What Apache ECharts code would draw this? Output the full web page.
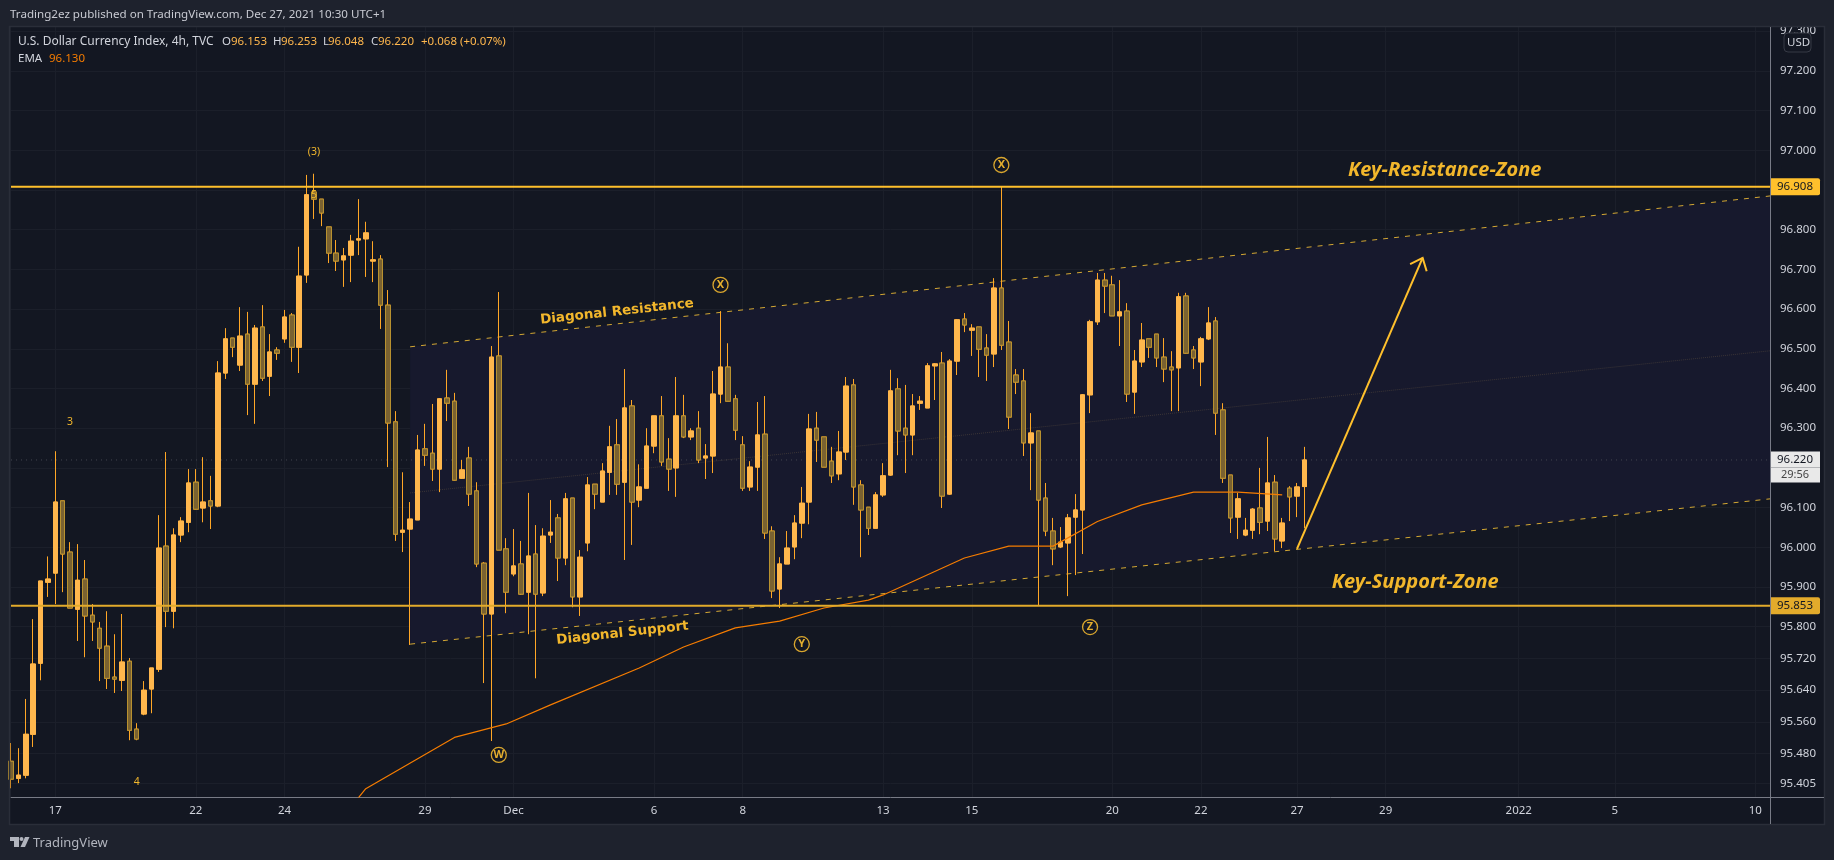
<!DOCTYPE html>
<html>
<head>
<meta charset="utf-8">
<style>html,body{margin:0;padding:0;background:#1e222d;}#c{width:1834px;height:860px;}</style>
<script src="https://cdn.jsdelivr.net/npm/echarts@6/dist/echarts.min.js"></script>
</head>
<body>
<div id="c"></div>
<script>
const opens=[
95.461,95.418,95.426,95.529,95.708,95.912,95.935,96.117,95.988,95.844,
95.920,95.829,95.796,95.751,95.673,95.665,95.713,95.542,95.580,95.643,
95.693,96.003,95.839,96.031,96.063,96.164,96.099,96.117,96.104,96.439,
96.527,96.459,96.537,96.411,96.555,96.431,96.497,96.525,96.585,96.504,
96.686,96.895,96.877,96.807,96.741,96.724,96.736,96.774,96.777,96.721,
96.726,96.610,96.316,96.038,96.046,96.069,96.248,96.237,96.197,96.376,
96.368,96.174,96.225,96.142,95.960,95.832,96.482,95.996,95.933,95.958,
95.887,95.983,95.885,96.031,96.074,95.973,96.124,95.875,96.011,96.159,
96.114,96.189,96.258,96.164,96.356,96.119,96.149,96.255,96.331,96.222,
96.200,96.331,96.278,96.300,96.225,96.230,96.386,96.454,96.374,96.258,
96.152,96.202,96.285,96.041,95.895,95.958,96.001,96.061,96.114,96.300,
96.278,96.217,96.185,96.240,96.409,96.157,96.101,96.048,96.132,96.182,
96.399,96.300,96.283,96.363,96.351,96.457,96.464,96.134,96.469,96.575,
96.547,96.555,96.502,96.487,96.653,96.517,96.434,96.419,96.263,96.293,
96.124,96.041,96.001,96.011,96.076,96.094,96.384,96.568,96.673,96.661,
96.583,96.595,96.391,96.467,96.525,96.537,96.479,96.454,96.452,96.633,
96.497,96.467,96.525,96.570,96.346,96.182,96.076,96.031,96.043,96.099,
96.066,96.164,96.016,96.149,96.129,96.153];
const highs=[
95.507,95.494,95.618,95.819,95.915,95.977,96.242,96.117,96.013,96.008,
95.968,95.857,95.812,95.839,95.781,95.832,95.721,95.557,95.663,95.696,
96.081,96.240,96.048,96.076,96.197,96.197,96.227,96.180,96.469,96.552,
96.527,96.605,96.593,96.560,96.610,96.537,96.504,96.598,96.590,96.757,
96.938,96.941,96.877,96.807,96.774,96.754,96.787,96.877,96.820,96.771,
96.736,96.648,96.343,96.189,96.114,96.283,96.311,96.361,96.376,96.447,
96.389,96.220,96.253,96.164,95.963,96.507,96.643,96.023,96.046,96.016,
96.137,96.056,96.048,96.119,96.084,96.137,96.124,95.993,96.177,96.159,
96.212,96.306,96.323,96.449,96.371,96.209,96.300,96.331,96.381,96.275,
96.429,96.384,96.300,96.343,96.260,96.444,96.595,96.514,96.384,96.280,
96.217,96.366,96.381,96.053,95.975,96.041,96.081,96.152,96.336,96.341,
96.278,96.253,96.293,96.429,96.424,96.169,96.101,96.139,96.212,96.447,
96.426,96.409,96.386,96.381,96.464,96.464,96.492,96.474,96.575,96.590,
96.562,96.555,96.537,96.678,96.908,96.570,96.449,96.449,96.338,96.293,
96.162,96.074,96.051,96.084,96.134,96.386,96.573,96.691,96.691,96.684,
96.673,96.615,96.497,96.565,96.525,96.537,96.527,96.494,96.641,96.641,
96.507,96.530,96.605,96.580,96.363,96.182,96.137,96.074,96.099,96.200,
96.278,96.182,96.074,96.154,96.162,96.253];
const lows=[
95.393,95.406,95.418,95.497,95.665,95.875,95.857,95.887,95.847,95.764,
95.723,95.764,95.663,95.643,95.633,95.638,95.514,95.514,95.577,95.582,
95.686,95.799,95.796,96.013,96.038,96.094,96.063,96.046,96.101,96.424,
96.479,96.444,96.333,96.311,96.419,96.381,96.472,96.515,96.467,96.439,
96.666,96.827,96.809,96.716,96.696,96.656,96.668,96.736,96.681,96.668,
96.550,96.202,96.016,95.988,95.754,96.069,96.205,96.167,96.139,96.318,
96.167,96.172,96.104,95.950,95.658,95.512,95.993,95.834,95.927,95.880,
95.781,95.670,95.877,96.011,95.915,95.955,95.849,95.827,95.990,96.096,
96.114,96.132,96.132,95.968,96.006,96.101,96.149,96.237,96.205,96.142,
96.127,96.275,96.270,96.212,96.172,96.187,96.363,96.368,96.270,96.142,
96.142,96.142,96.021,95.872,95.847,95.958,95.970,96.023,96.058,96.215,
96.202,96.162,96.169,96.220,96.107,95.975,96.031,96.048,96.127,96.180,
96.232,96.187,96.232,96.346,96.351,96.371,96.099,96.132,96.434,96.542,
96.482,96.429,96.419,96.454,96.497,96.298,96.386,96.230,96.144,95.852,
96.028,95.955,95.998,95.877,95.930,95.983,96.338,96.560,96.590,96.583,
96.507,96.366,96.336,96.454,96.477,96.454,96.416,96.343,96.343,96.487,
96.449,96.406,96.522,96.283,96.162,96.036,96.021,96.028,96.021,96.033,
96.041,95.990,95.998,96.066,96.076,96.048];
const closes=[
95.416,95.426,95.529,95.706,95.915,95.920,96.114,95.983,95.847,95.917,
95.827,95.812,95.746,95.670,95.668,95.711,95.539,95.517,95.640,95.696,
95.998,95.839,96.031,96.066,96.162,96.096,96.114,96.104,96.439,96.525,
96.504,96.532,96.411,96.552,96.426,96.492,96.489,96.580,96.504,96.683,
96.888,96.877,96.842,96.741,96.721,96.734,96.771,96.777,96.792,96.724,
96.610,96.313,96.033,96.043,96.071,96.245,96.232,96.197,96.374,96.363,
96.169,96.195,96.134,95.958,95.832,96.479,95.993,95.887,95.953,95.882,
95.978,95.882,96.028,96.038,95.973,96.122,95.875,95.975,96.157,96.134,
96.192,96.253,96.159,96.351,96.114,96.152,96.255,96.331,96.215,96.197,
96.331,96.278,96.293,96.220,96.230,96.386,96.454,96.368,96.295,96.149,
96.202,96.283,96.036,95.890,95.958,95.998,96.061,96.111,96.298,96.270,
96.202,96.180,96.240,96.406,96.152,96.094,96.048,96.132,96.180,96.394,
96.293,96.283,96.356,96.368,96.457,96.462,96.129,96.469,96.573,96.560,
96.552,96.499,96.484,96.653,96.509,96.328,96.416,96.263,96.288,96.119,
96.041,95.996,96.013,96.074,96.094,96.384,96.568,96.673,96.658,96.583,
96.593,96.386,96.469,96.522,96.504,96.477,96.449,96.447,96.631,96.489,
96.477,96.525,96.565,96.338,96.174,96.074,96.122,96.043,96.096,96.063,
96.162,96.021,96.061,96.127,96.152,96.220];

const slotCount=239;
const tickSlots=[6,25,37,56,68,87,99,118,130,149,161,174,186,204,217,236];
const tickLabels=['17','22','24','29','Dec','6','8','13','15','20','22','27','29','2022','5','10'];
const priceTicks=[97.3,97.2,97.1,97.0,96.9,96.8,96.7,96.6,96.5,96.4,96.3,96.2,96.1,96.0,95.9,95.8,95.72,95.64,95.56,95.48,95.405];
const priceLabels=[97.3,97.2,97.1,97.0,96.8,96.7,96.6,96.5,96.4,96.3,96.1,96.0,95.9,95.8,95.72,95.64,95.56,95.48,95.405];

const emaSlots=[46,48,60,67,73,85,91,98,104,110,116,118,129,135,141,147,153,160,166,172];
const emaValues=[95.346,95.392,95.521,95.555,95.603,95.696,95.749,95.797,95.814,95.847,95.867,95.880,95.973,96.003,96.003,96.065,96.107,96.139,96.139,96.132];

const channelSlots=[54,238];
const channelTop=[96.505,96.885];
const channelMid=[96.137,96.495];
const channelLow=[95.756,96.122];
const resistanceLevel=96.908;
const supportLevel=95.853;
const lastPrice=96.220;
const arrowSlots=[174,191];
const arrowPrices=[95.996,96.729];

const noteTexts=['(3)','5','3','4','Diagonal Resistance','Diagonal Support','Key-Resistance-Zone','Key-Support-Zone'];
const noteSlots=[41,41,8,17,82,83,194,190];
const notePrices=[96.996,96.887,96.316,95.409,96.593,95.784,96.950,95.913];
const circleTexts=['X','X','W','Y','Z'];
const circleSlots=[96,134,66,107,146];
const circlePrices=[96.661,96.963,95.477,95.756,95.799];

const BG='#1e222d',PANEL='#131722',GRID='#1b1f2a',AXIS='#787b86',TXT='#d1d4dc',GOLD='#ffc02c',GOLD2='#e3ab2b',UP='#ffb74d',WICK='#ffa726',DN='#7a6231',DNB='#b8912f',EMA='#f57c00';
const F='"Noto Sans",sans-serif';
const categories=Array.from({length:slotCount},(_,i)=>String(i));
const isTick=i=>tickSlots.includes(+i);
const wicks=opens.map((o,i)=>[o,closes[i],lows[i],highs[i]]);
const bodies=opens.map((o,i)=>[o,closes[i],Math.min(o,closes[i]),Math.max(o,closes[i])]);
const twoPoint=(vals)=>channelSlots.map((s,i)=>[s,vals[i]]);
const flat=(v)=>[[0,v],[slotCount-1,v]];

function tag(name,value,bg){
  return {type:'line',name,data:flat(value),symbol:'none',silent:true,z:6,clip:false,
    lineStyle:{color:bg,width:2},
    endLabel:{show:true,distance:0,formatter:'{a|'+value.toFixed(3)+'}',
      rich:{a:{width:50,height:17,lineHeight:17,align:'center',backgroundColor:bg,borderRadius:[0,2,2,0],color:'#131722',fontSize:11.5,fontFamily:F}}}};
}
const t=(x,y,text,fill,extra)=>({type:'text',z:61,x,y,style:Object.assign({text,fill,fontSize:11.5,fontFamily:F,textVerticalAlign:'middle'},extra||{})});

const option={
  animation:false,
  backgroundColor:BG,
  grid:{left:11,right:64,top:27,bottom:63,show:true,backgroundColor:PANEL,borderWidth:0},
  xAxis:{type:'category',data:categories,boundaryGap:false,
    axisLine:{lineStyle:{color:AXIS,width:1}},axisTick:{show:false},
    axisLabel:{interval:(i)=>isTick(i),formatter:(v)=>tickLabels[tickSlots.indexOf(+v)]||'',color:TXT,fontSize:11.5,fontFamily:F,margin:8,hideOverlap:false},
    splitLine:{show:true,interval:(i)=>isTick(i),lineStyle:{color:GRID,width:1}}},
  yAxis:{type:'value',position:'right',min:95.371,max:97.3106,scale:true,
    axisLine:{show:true,lineStyle:{color:AXIS,width:1}},
    axisTick:{show:false,customValues:priceTicks},
    axisLabel:{customValues:priceLabels,formatter:(v)=>(+v).toFixed(3),color:TXT,fontSize:11.5,fontFamily:F,margin:10},
    splitLine:{show:true,lineStyle:{color:GRID,width:1}}},
  series:[
    {type:'custom',name:'channel',z:1,silent:true,data:[[channelSlots[0],channelTop[0]]],
      renderItem:(p,api)=>({type:'polygon',shape:{points:[
        api.coord([channelSlots[0],channelTop[0]]),api.coord([channelSlots[1],channelTop[1]]),
        api.coord([channelSlots[1],channelLow[1]]),api.coord([channelSlots[0],channelLow[0]])]},
        style:{fill:'#17192d'}})},
    {type:'line',name:'mid',z:2,data:twoPoint(channelMid),symbol:'none',silent:true,lineStyle:{color:'#3a3436',width:1,type:'dotted'}},
    {type:'line',name:'last',z:2,data:flat(lastPrice),symbol:'none',silent:true,clip:false,lineStyle:{color:'#43454f',width:1,type:[1,4]},
      endLabel:{show:true,distance:0,offset:[0,7],formatter:'{a|'+lastPrice.toFixed(3)+'}\n{b|29:56}',
        rich:{a:{width:50,height:16,lineHeight:16,align:'center',backgroundColor:'#e9e9e9',color:'#131722',fontSize:11.5,fontFamily:F},
              b:{width:50,height:15,lineHeight:15,align:'center',backgroundColor:'#e9e9e9',color:'#444',fontSize:11,fontFamily:F}}}},
    {type:'line',name:'top',z:3,data:twoPoint(channelTop),symbol:'none',silent:true,lineStyle:{color:'#d4a833',width:1,type:[5,6]}},
    {type:'line',name:'low',z:3,data:twoPoint(channelLow),symbol:'none',silent:true,lineStyle:{color:'#d4a833',width:1,type:[5,6]}},
    {type:'candlestick',name:'wicks',z:4,barWidth:5,data:wicks,silent:true,
      itemStyle:{color:UP,color0:DN,borderColor:WICK,borderColor0:WICK,borderWidth:1}},
    {type:'candlestick',name:'bodies',z:5,barWidth:5,data:bodies,silent:true,
      itemStyle:{color:UP,color0:DN,borderColor:UP,borderColor0:DNB,borderWidth:1}},
    {type:'line',name:'EMA',z:6,data:emaSlots.map((s,i)=>[s,emaValues[i]]),symbol:'none',silent:true,lineStyle:{color:EMA,width:1.2}},
    tag('resistance',resistanceLevel,GOLD),
    tag('support',supportLevel,GOLD2),
    {type:'custom',name:'arrow',z:7,silent:true,data:[[arrowSlots[0],arrowPrices[0]]],
      renderItem:(p,api)=>{
        const a=api.coord([arrowSlots[0],arrowPrices[0]]),b=api.coord([arrowSlots[1],arrowPrices[1]]);
        const ang=Math.atan2(a[1]-b[1],a[0]-b[0]),L=14,d=0.7;
        const h1=[b[0]+L*Math.cos(ang+d),b[1]+L*Math.sin(ang+d)],h2=[b[0]+L*Math.cos(ang-d),b[1]+L*Math.sin(ang-d)];
        const s={stroke:GOLD,lineWidth:2,fill:'none'};
        return {type:'group',children:[{type:'polyline',shape:{points:[a,b]},style:s},{type:'polyline',shape:{points:[h1,b,h2]},style:s}]};
      }},
    {type:'scatter',name:'notes',z:8,symbolSize:1,silent:true,itemStyle:{color:'transparent',opacity:1},
      data:noteTexts.map((n,i)=>{
        const big=i>=6,diag=i==4||i==5;
        return {value:[noteSlots[i],notePrices[i]],label:{show:true,position:'inside',formatter:n,color:'#f2b72c',
          fontFamily:big?F:(diag?'"DejaVu Sans",sans-serif':F),fontStyle:big?'italic':'normal',fontWeight:(big||diag)?'bold':'normal',
          fontSize:big?20:(diag?13.5:10.5),rotate:diag?6.3:0,offset:i==5?[-2,0]:[0,0]}};
      })},
    {type:'scatter',name:'waves',z:8,symbol:'circle',symbolSize:15,silent:true,
      itemStyle:{color:'transparent',borderColor:'#d9a62e',borderWidth:1.3,opacity:1},
      label:{show:true,position:'inside',formatter:(p)=>circleTexts[p.dataIndex],color:'#e5af2e',fontSize:11,fontFamily:F,fontWeight:'bold'},
      data:circleSlots.map((s,i)=>[s,circlePrices[i]])}
  ],
  graphic:{elements:[
    {type:'rect',z:-5,shape:{x:1770,y:27,width:54,height:797},style:{fill:PANEL}},
    {type:'rect',z:-5,shape:{x:10,y:797,width:1814,height:27},style:{fill:PANEL}},
    {type:'rect',z:60,shape:{x:0,y:0,width:1834,height:26},style:{fill:BG}},
    {type:'rect',z:60,shape:{x:9.5,y:26.5,width:1815,height:798},style:{fill:'none',stroke:'#2a2e39',lineWidth:1.5}},
    {type:'line',z:60,shape:{x1:1770.5,y1:27,x2:1770.5,y2:824},style:{stroke:AXIS,lineWidth:1}},
    {type:'line',z:60,shape:{x1:1770,y1:797.5,x2:1824,y2:797.5},style:{stroke:AXIS,lineWidth:1}},
    t(10,15,'Trading2ez published on TradingView.com, Dec 27, 2021 10:30 UTC+1','#c8cad2',{fontSize:11.6}),
    t(18,42,'U.S. Dollar Currency Index, 4h, TVC',TXT,{fontSize:12}),
    t(222,42,'O',TXT),t(231,42,'96.153',UP),
    t(273,42,'H',TXT),t(281,42,'96.253',UP),
    t(323,42,'L',TXT),t(328,42,'96.048',UP),
    t(371,42,'C',TXT),t(378,42,'96.220',UP),
    t(421,42,'+0.068 (+0.07%)',UP),
    t(18,59,'EMA',TXT),t(49,59,'96.130',EMA),
    {type:'rect',z:60,shape:{x:1784,y:33,width:27,height:19,r:4},style:{fill:PANEL,stroke:'#363a45',lineWidth:1}},
    t(1787,42.5,'USD',TXT),
    {type:'polygon',z:61,shape:{points:[[10,837],[19,837],[19,847],[14,847],[14,841],[10,841]]},style:{fill:'#b2b5be'}},
    {type:'circle',z:61,shape:{cx:21.5,cy:839,r:2},style:{fill:'#b2b5be'}},
    {type:'polygon',z:61,shape:{points:[[25,837],[29.5,837],[25,847],[20.5,847]]},style:{fill:'#b2b5be'}},
    t(33,843,'TradingView','#b2b5be',{fontSize:13})
  ]}
};
const chart=echarts.init(document.getElementById('c'),null,{renderer:'canvas'});
chart.setOption(option);
</script>
</body>
</html>
